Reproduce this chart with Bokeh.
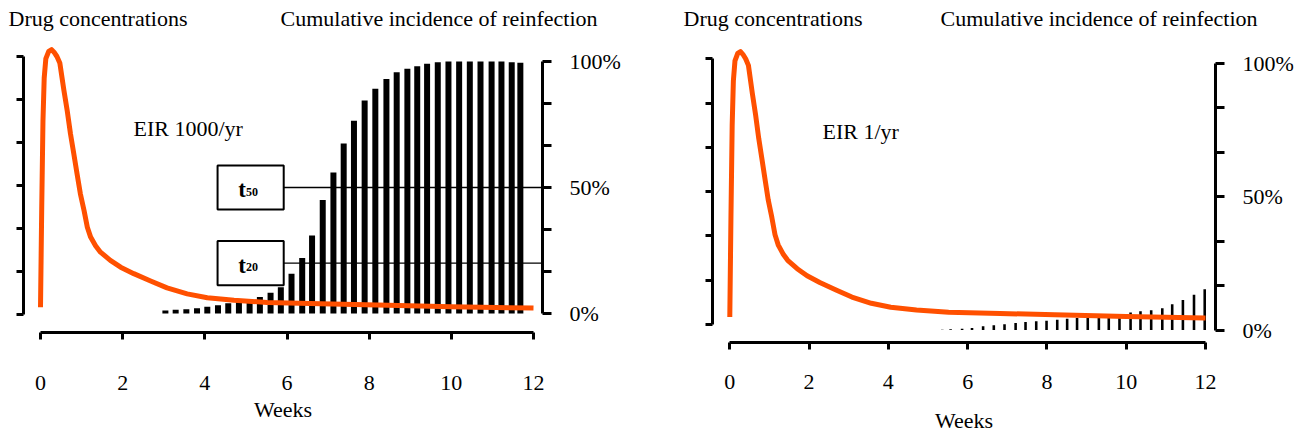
from bokeh.plotting import figure
from bokeh.layouts import row, column
from bokeh.models import Range1d, LinearAxis, FixedTicker, CustomJSTickFormatter, Label
from bokeh.embed import file_html
from bokeh.resources import INLINE

FONT = "Liberation Serif"
ORANGE = "#FF5000"

# ---------------- data ----------------
# drug concentration curve (same regimen in both panels), arbitrary units
curve_weeks = [0, 0.03, 0.06, 0.09, 0.13, 0.2, 0.27, 0.33, 0.4, 0.47, 0.57,
               0.65, 0.73, 0.81, 0.89, 0.97, 1.06, 1.14, 1.22, 1.34, 1.46,
               1.7, 1.95, 2.27, 2.68, 3.08, 3.57, 4.06, 4.71, 5.52, 6.82,
               8.2, 10.0, 12.0]
curve_conc = [0.17, 2.5, 4.5, 5.5, 5.95, 6.12, 6.16, 6.1, 6.0, 5.85, 5.21,
              4.74, 4.20, 3.74, 3.27, 2.81, 2.42, 2.03, 1.80, 1.60, 1.45,
              1.26, 1.10, 0.95, 0.78, 0.62, 0.48, 0.39, 0.33, 0.28, 0.25,
              0.22, 0.18, 0.15]

# cumulative incidence of reinfection, EIR 1000/yr (%)
eir1000_weeks = [3.04, 3.29, 3.55, 3.81, 4.06, 4.32, 4.57, 4.83, 5.09, 5.34,
                 5.60, 5.85, 6.11, 6.37, 6.61, 6.87, 7.13, 7.38, 7.63, 7.89,
                 8.15, 8.42, 8.67, 8.93, 9.17, 9.41, 9.67, 9.93, 10.19, 10.45,
                 10.71, 10.98, 11.22, 11.47, 11.68]
eir1000_pct = [1.2, 1.5, 1.7, 2.1, 2.7, 3.3, 4.1, 4.8, 5.6, 6.5,
               8.2, 10.4, 15.8, 22.0, 31.0, 45.0, 56.0, 67.5, 76.5, 84.5,
               89.2, 93.1, 95.7, 97.1, 98.1, 99.1, 99.7, 100, 100, 100,
               100, 100, 100, 99.7, 99.5]

# cumulative incidence of reinfection, EIR 1/yr (%)
eir1_weeks = [5.36, 5.57, 5.86, 6.11, 6.39, 6.66, 6.93, 7.21, 7.46, 7.73,
              7.99, 8.26, 8.51, 8.76, 9.03, 9.31, 9.56, 9.83, 10.11, 10.36,
              10.63, 10.91, 11.16, 11.43, 11.71, 11.98]
eir1_pct = [0.15, 0.26, 0.5, 0.75, 1.4, 1.75, 2.2, 2.6, 3.0, 3.25,
            3.5, 3.85, 4.2, 4.5, 4.9, 5.1, 5.35, 6.0, 6.6, 7.0,
            7.4, 8.2, 9.7, 11.3, 13.2, 15.3]

x_ticks = [0, 2, 4, 6, 8, 10, 12]
conc_ticks = [0, 1, 2, 3, 4, 5, 6]
pct_ticks = [0, 100 / 6, 200 / 6, 50, 400 / 6, 500 / 6, 100]

t_names = ["50", "20"]
t_levels = [50, 20]
box_x0, box_x1, box_h = 4.31, 5.92, 17.5

TOTAL_W = 1304
TOTAL_H = 435
HDR_H = 36          # header strip holding the panel titles
MAIN_H = TOTAL_H - HDR_H


def make_panel(width, page_left, frame_left, frame_right, frame_bottom,
               x0px, x12px, c0px, c6px, p0px, p100px,
               tick_standoff, weeks_standoff, bar_w, bars_x, bars_y,
               eir_text, eir_px, boxes):
    sx = (x12px - x0px) / 12.0
    sc = (c0px - c6px) / 6.0
    sp = (p0px - p100px) / 100.0
    xr = Range1d(-(x0px - frame_left) / sx, 12 + (frame_right - x12px) / sx)
    yr = Range1d(-(frame_bottom - c0px) / sc, 6 + (c6px - HDR_H) / sc)
    pr = Range1d(-(frame_bottom - p0px) / sp, 100 + (p100px - HDR_H) / sp)

    def wx(px):
        return (px - x0px) / sx

    def cy(py):
        return (c0px - py) / sc

    p = figure(width=width, height=MAIN_H, x_range=xr, y_range=yr,
               output_backend="svg", toolbar_location=None,
               min_border_left=frame_left - page_left,
               min_border_right=page_left + width - frame_right,
               min_border_top=0,
               min_border_bottom=TOTAL_H - frame_bottom)
    p.frame_align = False
    p.extra_y_ranges = {"pct": pr}
    p.outline_line_color = None
    p.xgrid.visible = False
    p.ygrid.visible = False
    p.background_fill_color = "white"
    p.border_fill_color = "white"

    # x axis
    xa = p.xaxis[0]
    xa.ticker = FixedTicker(ticks=x_ticks)
    xa.bounds = (0, 12)
    xa.axis_line_width = 3
    xa.major_tick_line_width = 3
    xa.major_tick_in = 0
    xa.major_tick_out = 7
    xa.minor_tick_line_color = None
    xa.major_label_standoff = tick_standoff
    xa.major_label_text_font = FONT
    xa.major_label_text_font_size = "22px"
    xa.major_label_text_color = "black"
    xa.axis_label = "Weeks"
    xa.axis_label_text_font = FONT
    xa.axis_label_text_font_size = "22px"
    xa.axis_label_text_font_style = "normal"
    xa.axis_label_text_color = "black"
    xa.axis_label_standoff = weeks_standoff

    # left axis (drug concentrations, unlabeled)
    ya = p.yaxis[0]
    ya.ticker = FixedTicker(ticks=conc_ticks)
    ya.bounds = (0, 6)
    ya.formatter = CustomJSTickFormatter(code="return ''")
    ya.axis_line_width = 3
    ya.major_tick_line_width = 3
    ya.major_tick_in = 0
    ya.major_tick_out = 7
    ya.minor_tick_line_color = None
    ya.major_label_standoff = 0
    ya.major_label_text_font_size = "1px"

    # right axis (cumulative incidence, %)
    ra = LinearAxis(y_range_name="pct")
    ra.ticker = FixedTicker(ticks=pct_ticks)
    ra.bounds = (0, 100)
    ra.formatter = CustomJSTickFormatter(code="""
        const v = Math.round(tick);
        if (Math.abs(tick - v) < 1e-6 && v % 50 == 0) { return v + '%'; }
        return '';""")
    ra.axis_line_width = 3
    ra.major_tick_line_width = 3
    ra.major_tick_in = 0
    ra.major_tick_out = 9
    ra.minor_tick_line_color = None
    ra.major_label_standoff = 18
    ra.major_label_text_font = FONT
    ra.major_label_text_font_size = "22px"
    ra.major_label_text_color = "black"
    ra.major_label_text_align = "left"
    p.add_layout(ra, "right")

    # bars
    p.vbar(x=bars_x, top=bars_y, bottom=0, width=bar_w, y_range_name="pct",
           fill_color="black", line_color=None)

    # t boxes
    if boxes:
        bx = (box_x0 + box_x1) / 2
        split = wx(245.5)
        for name, lev in zip(t_names, t_levels):
            p.segment(x0=[box_x1], y0=[lev], x1=[xr.end], y1=[lev],
                      y_range_name="pct", line_color="black", line_width=1.4)
            p.rect(x=[bx], y=[lev], width=box_x1 - box_x0, height=box_h,
                   y_range_name="pct", fill_color="white",
                   line_color="black", line_width=2)
            p.add_layout(Label(x=split, y=lev - 2.0 / sp, y_range_name="pct",
                               text="t", text_font=FONT, text_font_size="23px",
                               text_font_style="bold", text_align="right",
                               text_baseline="alphabetic", text_color="black"))
            p.add_layout(Label(x=split, y=lev - 4.0 / sp, y_range_name="pct",
                               text=name, text_font=FONT, text_font_size="12px",
                               text_font_style="bold", text_align="left",
                               text_baseline="alphabetic", text_color="black"))

    # drug concentration curve
    p.line(curve_weeks, curve_conc, line_color=ORANGE, line_width=5,
           line_join="round")

    p.add_layout(Label(x=wx(eir_px[0]), y=cy(eir_px[1]), text=eir_text,
                       text_font=FONT, text_font_size="22px",
                       text_align="left", text_baseline="alphabetic",
                       text_color="black"))
    return p


# header strip with the four panel titles (x, y in page pixels)
hdr = figure(width=TOTAL_W, height=HDR_H, x_range=Range1d(0, TOTAL_W),
             y_range=Range1d(HDR_H, 0), output_backend="svg",
             toolbar_location=None, x_axis_location=None,
             y_axis_location=None, min_border=0)
hdr.frame_align = False
hdr.outline_line_color = None
hdr.xgrid.visible = False
hdr.ygrid.visible = False
for tx, txt in [(8, "Drug concentrations"),
                (280, "Cumulative incidence of reinfection"),
                (683, "Drug concentrations"),
                (940, "Cumulative incidence of reinfection")]:
    hdr.add_layout(Label(x=tx, y=18, text=txt, text_font=FONT,
                         text_font_size="22px", text_align="left",
                         text_baseline="middle", text_color="black"))

p1 = make_panel(width=650, page_left=0, frame_left=23, frame_right=542,
                frame_bottom=332, x0px=40, x12px=533, c0px=314, c6px=56,
                p0px=313, p100px=61, tick_standoff=36, weeks_standoff=4,
                bar_w=0.146, bars_x=eir1000_weeks, bars_y=eir1000_pct,
                eir_text="EIR 1000/yr", eir_px=(133, 128), boxes=True)

p2 = make_panel(width=TOTAL_W - 650, page_left=650, frame_left=712,
                frame_right=1215, frame_bottom=343, x0px=729.3, x12px=1205,
                c0px=325, c6px=58.3, p0px=330.5, p100px=62.7,
                tick_standoff=25, weeks_standoff=16,
                bar_w=0.065, bars_x=eir1_weeks, bars_y=eir1_pct,
                eir_text="EIR 1/yr", eir_px=(822, 131), boxes=False)

layout = column(hdr, row(p1, p2))
open("out.html", "w").write(file_html(layout, INLINE))
